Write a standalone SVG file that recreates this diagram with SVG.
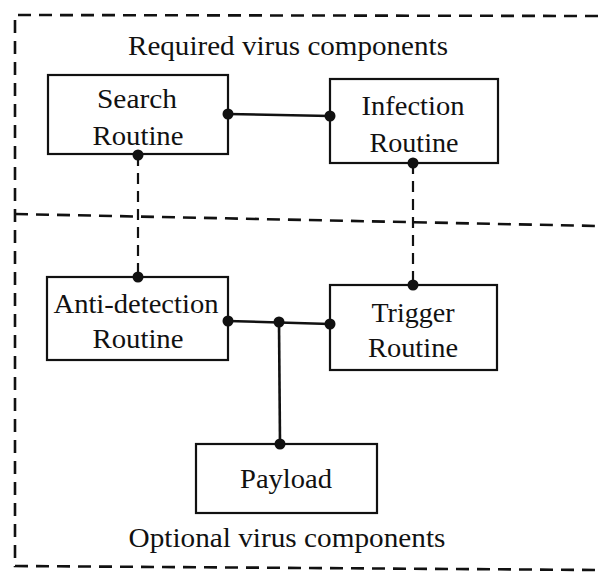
<svg xmlns="http://www.w3.org/2000/svg" width="598" height="580" viewBox="0 0 598 580">
<style>
.bg{fill:#ffffff}
.frame{fill:none;stroke:#111;stroke-width:2.6;stroke-dasharray:13 8}
.box{fill:#fff;stroke:#111;stroke-width:2.2}
.lbl{font-family:"Liberation Serif","Times New Roman",serif;font-size:28px;fill:#111;text-anchor:middle}
.solid{fill:none;stroke:#111;stroke-width:2.6}
.dash{fill:none;stroke:#111;stroke-width:2.2;stroke-dasharray:11 7}
.dot{fill:#111}
</style>
<rect class="bg" x="0" y="0" width="598" height="580"/>
<g id="frame">
<path class="frame" d="M598,16 L15,15 L15,566 L598,570"/>
<path class="frame" d="M15,214 L598,226"/>
<text class="lbl" x="288" y="55" textLength="320" lengthAdjust="spacingAndGlyphs">Required virus components</text>
<text class="lbl" x="287" y="547" textLength="317" lengthAdjust="spacingAndGlyphs">Optional virus components</text>
</g>
<g id="search">
<rect class="box" x="48" y="75" width="180" height="79"/>
<text class="lbl" x="137" y="108" textLength="80" lengthAdjust="spacingAndGlyphs">Search</text>
<text class="lbl" x="138" y="145" textLength="91" lengthAdjust="spacingAndGlyphs">Routine</text>
</g>
<g id="infection">
<rect class="box" x="330" y="79" width="168" height="84"/>
<text class="lbl" x="413" y="115" textLength="103" lengthAdjust="spacingAndGlyphs">Infection</text>
<text class="lbl" x="414" y="152" textLength="89" lengthAdjust="spacingAndGlyphs">Routine</text>
</g>
<g id="antidetection">
<rect class="box" x="47" y="277" width="181" height="83"/>
<text class="lbl" x="136" y="313" textLength="165" lengthAdjust="spacingAndGlyphs">Anti-detection</text>
<text class="lbl" x="138" y="348" textLength="91" lengthAdjust="spacingAndGlyphs">Routine</text>
</g>
<g id="trigger">
<rect class="box" x="330" y="285" width="167" height="85"/>
<text class="lbl" x="413" y="322" textLength="83" lengthAdjust="spacingAndGlyphs">Trigger</text>
<text class="lbl" x="413" y="357" textLength="90" lengthAdjust="spacingAndGlyphs">Routine</text>
</g>
<g id="payload">
<rect class="box" x="196" y="444" width="181" height="69"/>
<text class="lbl" x="286" y="488" textLength="92" lengthAdjust="spacingAndGlyphs">Payload</text>
</g>
<g id="connectors">
<path class="solid" d="M228,114 L330,116"/>
<path class="dash" d="M138,155 L138,277"/>
<path class="dash" d="M413,163 L413,285"/>
<path class="solid" d="M228,321 L330,324"/>
<path class="solid" d="M279,322 L280,444"/>
<circle class="dot" cx="228" cy="114" r="5.5"/>
<circle class="dot" cx="330" cy="116" r="5.5"/>
<circle class="dot" cx="138" cy="155" r="5.5"/>
<circle class="dot" cx="138" cy="277" r="5.5"/>
<circle class="dot" cx="413" cy="163" r="5.5"/>
<circle class="dot" cx="413" cy="285" r="5.5"/>
<circle class="dot" cx="228" cy="321" r="5.5"/>
<circle class="dot" cx="279" cy="322" r="5.5"/>
<circle class="dot" cx="330" cy="324" r="5.5"/>
<circle class="dot" cx="280" cy="444" r="5.5"/>
</g>
</svg>
